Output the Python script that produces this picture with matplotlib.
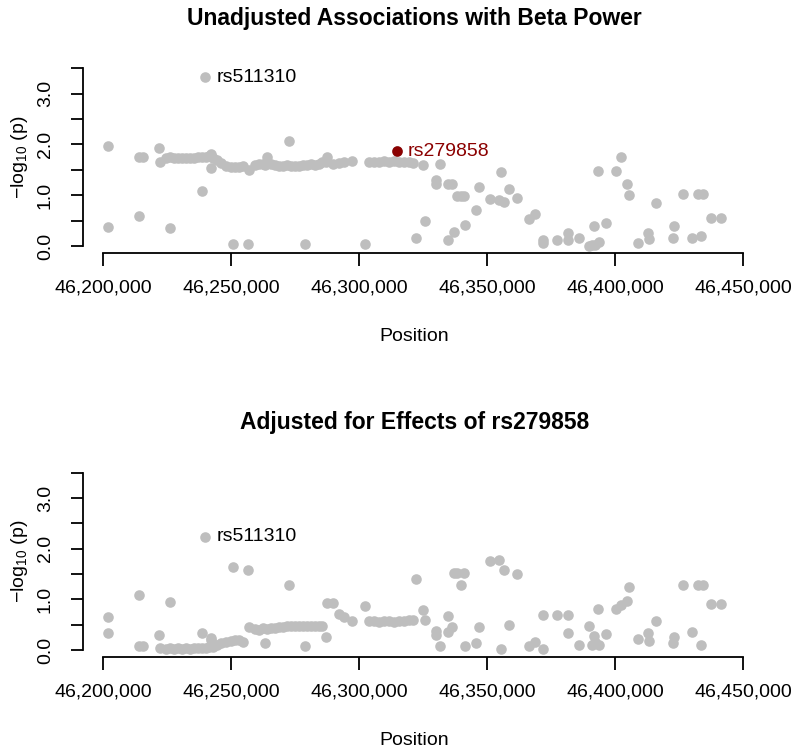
import numpy as np
import matplotlib
matplotlib.use("Agg")
import matplotlib.pyplot as plt
from matplotlib.ticker import FuncFormatter

plt.rcParams['font.family'] = ['Liberation Sans', 'DejaVu Sans']
plt.rcParams['mathtext.fontset'] = 'custom'
plt.rcParams['mathtext.rm'] = 'Liberation Sans'
plt.rcParams['mathtext.it'] = 'Liberation Sans:italic'

# SNP positions and -log10(p), unadjusted / adjusted for rs279858
pos = [46201710, 46201950, 46213900, 46214100, 46215580, 46221690, 46222270,
       46224420, 46225970, 46226000, 46227530, 46229090, 46230650, 46232200,
       46233760, 46235320, 46236880, 46238430, 46238710, 46239880, 46239990,
       46241360, 46241940, 46242130, 46242910, 46244280, 46246110, 46248050,
       46249730, 46250620, 46251670, 46253230, 46254520, 46256740, 46256930,
       46259460, 46261020, 46262580, 46263360, 46264140, 46265690, 46267250,
       46268810, 46270370, 46271920, 46272700, 46273480, 46275040, 46276600,
       46278150, 46278930, 46279710, 46281270, 46282830, 46284380, 46285550,
       46286990, 46287230, 46289560, 46292170, 46294110, 46297240, 46302300,
       46303850, 46305800, 46307750, 46309690, 46311640, 46313590, 46314640,
       46315540, 46317480, 46319430, 46320990, 46322040, 46324880, 46325660,
       46329830, 46330060, 46331390, 46334620, 46334810, 46336060, 46336960,
       46338240, 46339680, 46340850, 46341240, 46345400, 46346690, 46350970,
       46354600, 46355530, 46356430, 46358370, 46361600, 46366160, 46368770,
       46371610, 46371810, 46377180, 46381350, 46381540, 46385630, 46389520,
       46390690, 46391470, 46391860, 46393300, 46393690, 46396260, 46400430,
       46402260, 46404440, 46405490, 46408990, 46412890, 46413160, 46415730,
       46422510, 46422740, 46426520, 46429830, 46432360, 46433410, 46434310,
       46437540, 46441430]
p_unadj = [0.37, 1.97, 1.76, 0.60, 1.76, 1.94, 1.66,
           1.74, 0.35, 1.75, 1.73, 1.74, 1.73, 1.74,
           1.73, 1.74, 1.75, 1.75, 1.09, 3.32, 1.76,
           1.77, 1.81, 1.54, 1.74, 1.70, 1.63, 1.58,
           1.56, 0.03, 1.55, 1.55, 1.58, 0.03, 1.50,
           1.60, 1.62, 1.62, 1.60, 1.75, 1.62, 1.60,
           1.58, 1.58, 1.60, 2.06, 1.58, 1.58, 1.58,
           1.60, 0.03, 1.60, 1.62, 1.60, 1.62, 1.65,
           1.65, 1.75, 1.62, 1.63, 1.66, 1.68, 0.03,
           1.66, 1.66, 1.66, 1.67, 1.66, 1.67, 1.87,
           1.66, 1.66, 1.66, 1.64, 0.15, 1.60, 0.49,
           1.30, 1.22, 1.62, 0.12, 1.23, 1.23, 0.28,
           0.98, 0.98, 0.98, 0.42, 0.70, 1.16, 0.92,
           0.91, 1.46, 0.87, 1.13, 0.95, 0.54, 0.63,
           0.12, 0.05, 0.11, 0.12, 0.25, 0.15, 0.00,
           0.02, 0.39, 0.02, 1.48, 0.08, 0.46, 1.48,
           1.76, 1.22, 1.00, 0.06, 0.25, 0.14, 0.85,
           0.16, 0.39, 1.02, 0.16, 1.02, 0.20, 1.02,
           0.55, 0.55]
p_adj = [0.33, 0.65, 0.07, 1.09, 0.07, 0.30, 0.03,
         0.02, 0.95, 0.03, 0.02, 0.03, 0.02, 0.03,
         0.02, 0.03, 0.03, 0.04, 0.34, 2.24, 0.04,
         0.05, 0.20, 0.23, 0.06, 0.10, 0.14, 0.16,
         0.18, 1.64, 0.20, 0.20, 0.16, 1.58, 0.46,
         0.42, 0.40, 0.43, 0.14, 0.42, 0.44, 0.43,
         0.45, 0.46, 0.47, 1.28, 0.47, 0.48, 0.48,
         0.47, 0.07, 0.47, 0.48, 0.47, 0.47, 0.47,
         0.25, 0.93, 0.93, 0.71, 0.65, 0.57, 0.87,
         0.58, 0.57, 0.56, 0.58, 0.57, 0.55, np.nan,
         0.58, 0.58, 0.59, 0.59, 1.40, 0.79, 0.60,
         0.38, 0.30, 0.07, 0.67, 0.36, 0.46, 1.51,
         1.51, 1.28, 1.51, 0.08, 0.14, 0.45, 1.76,
         1.78, 0.02, 1.58, 0.49, 1.50, 0.07, 0.16,
         0.02, 0.69, 0.69, 0.69, 0.33, 0.09, 0.47,
         0.09, 0.28, 0.16, 0.80, 0.09, 0.32, 0.80,
         0.88, 0.96, 1.25, 0.22, 0.34, 0.18, 0.58,
         0.13, 0.26, 1.28, 0.35, 1.28, 0.09, 1.28,
         0.91, 0.91]

lead_snp = "rs279858"
lead_pos = 46314640
top_snp = "rs511310"
top_pos = 46239880

xticks = [46200000, 46250000, 46300000, 46350000, 46400000, 46450000]
yticks = [0.0, 0.5, 1.0, 1.5, 2.0, 2.5, 3.0, 3.5]

pos = np.array(pos)
p_unadj = np.array(p_unadj)
p_adj = np.array(p_adj)

grey = "#BEBEBE"
darkred = "#8B0000"

# R style 4% axis extension
xr = pos.max() - pos.min()
xlim = [pos.min() - 0.04 * xr, pos.max() + 0.04 * xr]
ylim = [0 - 0.04 * 3.5, 3.5 + 0.04 * 3.5]

fig = plt.figure(figsize=(8, 7.52), dpi=100)
ax1 = fig.add_axes([0.10375, 0.6634, 0.82875, 0.2552])
ax2 = fig.add_axes([0.10375, 0.1262, 0.82875, 0.2547])


def style_axis(ax, title):
    ax.set_xlim(xlim)
    ax.set_ylim(ylim)
    for s in ['top', 'right']:
        ax.spines[s].set_visible(False)
    ax.spines['left'].set_bounds(0, 3.5)
    ax.spines['bottom'].set_bounds(xticks[0], xticks[-1])
    ax.spines['left'].set_linewidth(1.3)
    ax.spines['bottom'].set_linewidth(1.3)
    ax.set_xticks(xticks)
    ax.xaxis.set_major_formatter(FuncFormatter(lambda v, p: f"{v:,.0f}"))
    ax.set_yticks(yticks)
    ax.set_yticklabels([f"{v:.1f}" if v == int(v) and v < 3.5 else "" for v in yticks],
                       rotation=90, va='center')
    ax.tick_params(axis='x', length=9, width=1.3, pad=10, labelsize=14)
    ax.tick_params(axis='y', length=9, width=1.3, pad=12, labelsize=14)
    ax.set_xlabel("Position", fontsize=14, labelpad=23)
    ax.set_ylabel(r"$-\mathrm{log}_{10}\ $(p)", fontsize=14, labelpad=5)
    ax.set_title(title, fontsize=16.5, fontweight='bold', pad=26)


ax1.scatter(pos, p_unadj, s=58, color=grey, linewidths=0, zorder=2)
lead = pos == lead_pos
ax1.scatter(pos[lead], p_unadj[lead], s=58, color=darkred, linewidths=0, zorder=3)
top = pos == top_pos
ax1.annotate(top_snp, (top_pos, p_unadj[top][0]), xytext=(8, 0),
             textcoords='offset points', va='center', fontsize=14)
ax1.annotate(lead_snp, (lead_pos, p_unadj[lead][0]), xytext=(8, 0),
             textcoords='offset points', va='center', fontsize=14, color=darkred)
style_axis(ax1, "Unadjusted Associations with Beta Power")

ax2.scatter(pos, p_adj, s=58, color=grey, linewidths=0, zorder=2)
ax2.annotate(top_snp, (top_pos, p_adj[top][0]), xytext=(8, 0),
             textcoords='offset points', va='center', fontsize=14)
style_axis(ax2, "Adjusted for Effects of " + lead_snp)

plt.savefig("out.png", dpi=100)
